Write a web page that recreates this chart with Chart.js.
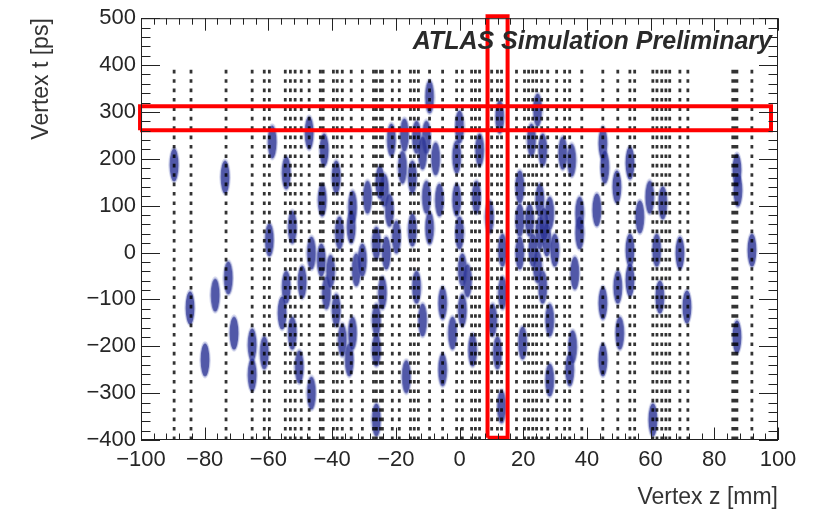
<!DOCTYPE html>
<html>
<head>
<meta charset="utf-8">
<script src="https://cdn.jsdelivr.net/npm/chart.js@4.4.1/dist/chart.umd.min.js"></script>
<style>
  html, body { margin: 0; padding: 0; background: #fff; }
  #wrap { width: 820px; height: 513px; }
</style>
</head>
<body>
<div id="wrap"><canvas id="vertexChart"></canvas></div>
<script>
// track positions along z (mm), each drawn as a dotted vertical line
const trackZ = [-89.6, -84.3, -73.3, -65.1, -65.1, -61.3, -59.7, -54.7, -53.1, -51.6, -49.7, -47.2,
    -43.7, -42.8, -39.6, -38.4, -36.8, -34.0, -30.5, -27.0, -26.1, -26.1, -24.8, -24.8, -24.2, -21.1,
    -18.9, -15.4, -14.2, -12.9, -9.4, -5.3, -0.9, 0.9, 3.8, 5.0, 6.3, 10.1, 11.9, 13.2, 17.9, 20.4,
    21.7, 23.0, 24.2, 25.8, 27.7, 30.5, 33.0, 34.6, 38.4, 45.0, 45.0, 49.7, 53.5, 55.0, 60.7, 62.0,
    63.5, 64.8, 66.0, 69.2, 71.7, 85.8, 86.5, 86.5, 87.1, 91.8];
const trackT = [-400, 400];

// reconstructed vertices
const vertexZ = [-89.6, -84.6, -79.9, -76.7, -73.6, -72.6, -70.8, -65.1, -65.1, -61.3, -59.7, -58.8,
    -54.4, -54.4, -55.7, -52.5, -50.3, -49.4, -46.5, -52.5, -46.5, -43.4, -41.8, -38.7, -36.8, -34.6,
    -32.4, -33.6, -37.7, -34.0, -30.5, -26.1, -23.0, -24.2, -26.1, -26.1, -16.7, -26.1, -19.8, -14.8,
    -13.5, -11.6, -5.3, -5.3, -9.4, -47.2, -42.5, -38.7, -43.1, -33.6, -28.9, -17.9, -17.3, -13.5,
    -9.4, -10.4, -11.6, -0.9, -10.4, -14.8, -6.3, 0.0, 6.3, 12.6, 24.5, 22.6, 26.1, 32.4, 35.2, 45.0,
    45.6, 53.5, 49.4, 59.7, 63.8, 56.6, 43.1, 18.9, 18.9, 28.3, 37.7, 87.1, 87.4, -0.9, 5.3, 9.4,
    0.0, 0.9, 0.9, 4.1, -2.2, 10.4, 11.9, 13.2, 13.5, 13.5, 18.9, 19.8, 25.2, 27.4, 26.1, 28.3,
    28.3, 34.6, 35.5, 36.2, 37.7, 45.0, 45.0, 49.7, 50.3, 53.5, 53.5, 61.9, 62.9, 69.2, 71.4, 60.7,
    87.1, 91.8, 22.0, 25.2, 29.9, -23.6, -21.4, 23.0, 26.5, 24.5, -25.0, -22.0, -7.5, -40.5, 2.5];
const vertexT = [187, -118, -229, -91, 161, -54, -172, -197, -261, -214, 27, 236,
    170, -74, -129, -172, -244, -63, -300, 54, -1, -16, -86, -123, -187, -229,
    -37, -172, 42, 54, -16, 20, -1, -86, -144, -208, -265, -357, 33, 48,
    -74, -144, -108, -250, 52, 255, 219, 161, 112, 97, 118, 182, 251, 246,
    332, 246, 212, 204, 118, 161, 112, 268, 219, 289, 304, 240, 219, 212, 197, 233,
    182, 191, 140, 118, 106, 76, 91, 140, 69, 84, 84, 176, 133, 112, 118, 76,
    42, -37, -123, -208, -172, -144, -214, -329, 5, -86, -1, -193, 42, 27, -74, -144,
    -272, -250, -201, -44, 42, -108, -229, -74, -172, 5, -59, 5, -95, -1, -116, -357,
    -180, 5, 69, 112, 5, 133, 240, 5, 60, -30, 150, 90, 200, -40, -60];

// highlighted regions (red boxes)
const columnBoxZ = [8.8, 15.1];
const columnBoxT = [-395, 504];
const rowBoxZ = [-100.3, 97.8];
const rowBoxT = [261, 312];

const xRange = [-100, 100];
const yRange = [-400, 500];

const FONT = '"Liberation Sans", Arial, Helvetica, sans-serif';

function boxPoints(zs, ts) {
    return [
        {x: zs[0], y: ts[0]}, {x: zs[1], y: ts[0]}, {x: zs[1], y: ts[1]},
        {x: zs[0], y: ts[1]}, {x: zs[0], y: ts[0]}
    ];
}

const trackPoints = [];
trackZ.forEach(z => {
    trackPoints.push({x: z, y: trackT[0]}, {x: z, y: trackT[1]}, {x: z, y: null});
});

const vertexPoints = vertexZ.map((z, i) => ({x: z, y: vertexT[i]}));

// vertex marker: upright ellipse with a soft rim
const blob = document.createElement('canvas');
blob.width = 12;
blob.height = 38;
const bctx = blob.getContext('2d');
bctx.fillStyle = 'rgba(110, 120, 195, 0.35)';
bctx.beginPath();
bctx.ellipse(6, 19, 5.6, 18.5, 0, 0, Math.PI * 2);
bctx.fill();
bctx.fillStyle = 'rgba(40, 48, 145, 0.75)';
bctx.beginPath();
bctx.ellipse(6, 19, 4.4, 16.5, 0, 0, Math.PI * 2);
bctx.fill();

const fmt = v => (v < 0 ? '\u2212' + Math.abs(v) : String(v));

// ROOT-like frame with inward ticks on all four sides
const framePlugin = {
    id: 'frame',
    afterDatasetsDraw(chart) {
        const {ctx, chartArea: a, scales: {x, y}} = chart;
        ctx.save();
        ctx.strokeStyle = '#222';
        ctx.lineWidth = 1;
        ctx.strokeRect(a.left + 0.5, a.top + 0.5, a.right - a.left - 1, a.bottom - a.top - 1);
        ctx.beginPath();
        for (let v = yRange[0]; v <= yRange[1]; v += 20) {
            const py = Math.round(y.getPixelForValue(v)) + 0.5;
            const len = v % 100 === 0 ? 19 : 9.5;
            ctx.moveTo(a.left, py); ctx.lineTo(a.left + len, py);
            ctx.moveTo(a.right, py); ctx.lineTo(a.right - len, py);
        }
        for (let v = xRange[0]; v <= xRange[1]; v += 4) {
            const px = Math.round(x.getPixelForValue(v)) + 0.5;
            const len = v % 20 === 0 ? 12.5 : 6.5;
            ctx.moveTo(px, a.bottom); ctx.lineTo(px, a.bottom - len);
            ctx.moveTo(px, a.top); ctx.lineTo(px, a.top + len);
        }
        ctx.stroke();
        ctx.restore();
    },
    afterDraw(chart) {
        const {ctx} = chart;
        ctx.save();
        ctx.fillStyle = '#2a2a2a';
        ctx.font = 'italic bold 25px ' + FONT;
        ctx.textAlign = 'right';
        ctx.textBaseline = 'alphabetic';
        ctx.fillText('ATLAS Simulation Preliminary', 772, 49);
        ctx.restore();
    }
};

const ctx = document.getElementById('vertexChart').getContext('2d');
const vertexChart = new Chart(ctx, {
    type: 'scatter',
    data: {
        datasets: [
            {
                label: 'Red column',
                data: boxPoints(columnBoxZ, columnBoxT),
                showLine: true,
                borderColor: '#ff0000',
                borderWidth: 4,
                borderJoinStyle: 'miter',
                pointRadius: 0,
                clip: false,
                order: -2
            },
            {
                label: 'Red row',
                data: boxPoints(rowBoxZ, rowBoxT),
                showLine: true,
                borderColor: '#ff0000',
                borderWidth: 4,
                borderJoinStyle: 'miter',
                pointRadius: 0,
                clip: false,
                order: -1
            },
            {
                label: 'Tracks',
                data: trackPoints,
                showLine: true,
                spanGaps: false,
                borderColor: 'rgba(0, 0, 0, 0.8)',
                borderWidth: 2.8,
                borderDash: [3.6, 5.8],
                pointRadius: 0,
                order: 0
            },
            {
                label: 'Vertices',
                data: vertexPoints,
                pointStyle: blob,
                pointRadius: 5,
                order: 1
            }
        ]
    },
    options: {
        responsive: true,
        maintainAspectRatio: false,
        animation: false,
        events: [],
        layout: { padding: { left: 0, top: 18, right: 42, bottom: 0 } },
        plugins: { legend: { display: false }, tooltip: { enabled: false } },
        scales: {
            x: {
                type: 'linear',
                min: xRange[0],
                max: xRange[1],
                grid: { display: false, drawTicks: false },
                border: { display: false },
                ticks: {
                    stepSize: 20,
                    padding: 7,
                    maxRotation: 0,
                    color: '#262626',
                    font: { family: FONT, size: 22 },
                    callback: fmt
                },
                title: {
                    display: true,
                    text: 'Vertex z [mm]',
                    align: 'end',
                    color: '#333',
                    font: { family: FONT, size: 23 },
                    padding: { top: 0, bottom: 2 }
                },
                afterFit(scale) { scale.height = 73; }
            },
            y: {
                type: 'linear',
                min: yRange[0],
                max: yRange[1],
                grid: { display: false, drawTicks: false },
                border: { display: false },
                ticks: {
                    stepSize: 100,
                    padding: 5,
                    color: '#262626',
                    font: { family: FONT, size: 22 },
                    callback: fmt
                },
                title: {
                    display: true,
                    text: 'Vertex t [ps]',
                    align: 'end',
                    color: '#333',
                    font: { family: FONT, size: 23 },
                    padding: { top: 28, bottom: 0 }
                },
                afterFit(scale) { scale.width = 141; }
            }
        }
    },
    plugins: [framePlugin]
});
</script>
</body>
</html>
